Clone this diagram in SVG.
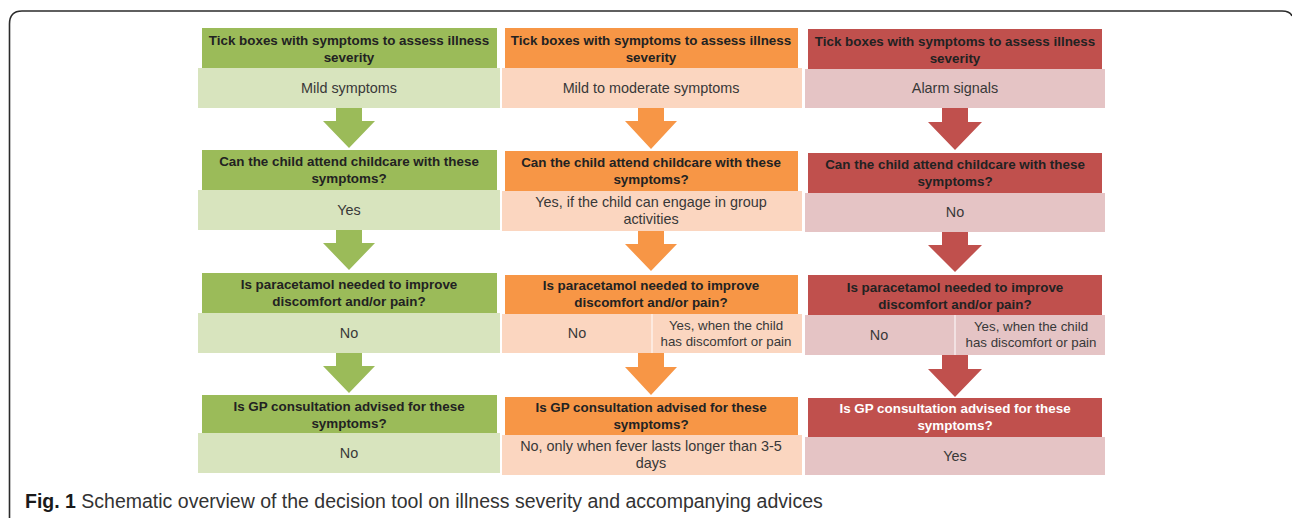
<svg xmlns="http://www.w3.org/2000/svg" width="1292" height="518" viewBox="0 0 1292 518">
<style>
.hd{font-family:"Liberation Sans",Arial,sans-serif;font-weight:bold;font-size:13.4px;fill:#222;text-anchor:middle}
.hw{fill:#ffffff}
.tx{font-family:"Liberation Sans",Arial,sans-serif;font-size:14.4px;fill:#383838;text-anchor:middle}
.sm{font-size:13.3px}
.g1{fill:#9BBB59}.g2{fill:#D8E4BE}
.o1{fill:#F79646}.o2{fill:#FBD6C0}
.r1{fill:#C0504D}.r2{fill:#E5C4C5}
.cap{font-family:"Liberation Sans",Arial,sans-serif;font-size:19.5px;fill:#333}
</style>
<rect width="1292" height="518" fill="#ffffff"/>
<path d="M9.5 518 V24 Q9.5 11 22 11 H1282 Q1290 11 1292 16" fill="none" stroke="#2b2b2b" stroke-width="1.6"/>

<!-- Column 1: green -->
<g id="g-row1">
<rect class="g1" x="202" y="28" width="295" height="40"/>
<rect class="g2" x="198" y="68" width="302" height="40"/>
<text class="hd" x="349" y="45">Tick  boxes with symptoms to assess illness</text>
<text class="hd" x="349" y="62">severity</text>
<text class="tx" x="349" y="93">Mild symptoms</text>
</g>
<g id="g-row2">
<rect class="g1" x="202" y="150" width="295" height="40"/>
<rect class="g2" x="198" y="190" width="302" height="40"/>
<text class="hd" x="349" y="166">Can the child  attend childcare  with these</text>
<text class="hd" x="349" y="183">symptoms?</text>
<text class="tx" x="349" y="215">Yes</text>
</g>
<g id="g-row3">
<rect class="g1" x="202" y="273" width="295" height="40"/>
<rect class="g2" x="198" y="313" width="302" height="40"/>
<text class="hd" x="349" y="289">Is paracetamol  needed to improve</text>
<text class="hd" x="349" y="306">discomfort and/or pain?</text>
<text class="tx" x="349" y="338">No</text>
</g>
<g id="g-row4">
<rect class="g1" x="202" y="395" width="295" height="38"/>
<rect class="g2" x="198" y="433" width="302" height="40"/>
<text class="hd" x="349" y="411">Is GP consultation  advised for these</text>
<text class="hd" x="349" y="428">symptoms?</text>
<text class="tx" x="349" y="458">No</text>
</g>

<!-- Column 2: orange -->
<g id="o-row1">
<rect class="o1" x="505" y="28" width="293" height="40"/>
<rect class="o2" x="502" y="68" width="300" height="40"/>
<text class="hd" x="651" y="45">Tick  boxes with symptoms to assess illness</text>
<text class="hd" x="651" y="62">severity</text>
<text class="tx" x="651" y="93">Mild to moderate  symptoms</text>
</g>
<g id="o-row2">
<rect class="o1" x="505" y="151" width="293" height="40"/>
<rect class="o2" x="502" y="191" width="300" height="40"/>
<text class="hd" x="651" y="167">Can the child  attend childcare  with these</text>
<text class="hd" x="651" y="184">symptoms?</text>
<text class="tx" x="651" y="207">Yes,  if the child can engage in group</text>
<text class="tx" x="651" y="224">activities</text>
</g>
<g id="o-row3">
<rect class="o1" x="505" y="275" width="293" height="39"/>
<rect class="o2" x="502" y="314" width="149.5" height="39"/>
<rect class="o2" x="652.5" y="314" width="149.5" height="39"/>
<text class="hd" x="651" y="290">Is paracetamol  needed to improve</text>
<text class="hd" x="651" y="307">discomfort and/or pain?</text>
<text class="tx" x="577" y="338">No</text>
<text class="tx sm" x="726" y="330">Yes, when the child</text>
<text class="tx sm" x="726" y="346">has discomfort or pain</text>
</g>
<g id="o-row4">
<rect class="o1" x="505" y="397" width="293" height="38"/>
<rect class="o2" x="502" y="435" width="300" height="40"/>
<text class="hd" x="651" y="412">Is GP consultation  advised for these</text>
<text class="hd" x="651" y="429">symptoms?</text>
<text class="tx" x="651" y="451">No, only when  fever  lasts longer than 3-5</text>
<text class="tx" x="651" y="468">days</text>
</g>

<!-- Column 3: red -->
<g id="r-row1">
<rect class="r1" x="808" y="29" width="294" height="40"/>
<rect class="r2" x="805" y="69" width="300" height="39"/>
<text class="hd" x="955" y="46">Tick  boxes with symptoms to assess illness</text>
<text class="hd" x="955" y="63">severity</text>
<text class="tx" x="955" y="93">Alarm signals</text>
</g>
<g id="r-row2">
<rect class="r1" x="808" y="153" width="294" height="40"/>
<rect class="r2" x="805" y="193" width="300" height="39"/>
<text class="hd" x="955" y="169">Can the child  attend childcare  with these</text>
<text class="hd" x="955" y="186">symptoms?</text>
<text class="tx" x="955" y="217">No</text>
</g>
<g id="r-row3">
<rect class="r1" x="808" y="275" width="294" height="40"/>
<rect class="r2" x="805" y="315" width="149.5" height="40"/>
<rect class="r2" x="955.5" y="315" width="149.5" height="40"/>
<text class="hd" x="955" y="292">Is paracetamol  needed to improve</text>
<text class="hd" x="955" y="309">discomfort and/or pain?</text>
<text class="tx" x="879" y="340">No</text>
<text class="tx sm" x="1031" y="331">Yes, when the child</text>
<text class="tx sm" x="1031" y="347">has discomfort or pain</text>
</g>
<g id="r-row4">
<rect class="r1" x="808" y="398" width="294" height="39"/>
<rect class="r2" x="805" y="437" width="300" height="38"/>
<text class="hd hw" x="955" y="413">Is GP consultation  advised for these</text>
<text class="hd hw" x="955" y="430">symptoms?</text>
<text class="tx" x="955" y="461">Yes</text>
</g>

<!-- Connectors: block arrows -->
<g id="connectors">
<path class="g1" d="M336 108 H362 V121 H375 L349 148 L323 121 H336 Z"/>
<path class="g1" d="M336 230 H362 V243 H375 L349 270 L323 243 H336 Z"/>
<path class="g1" d="M336 353 H362 V366 H375 L349 393 L323 366 H336 Z"/>
<path class="o1" d="M638 108 H664 V121 H677 L651 149 L625 121 H638 Z"/>
<path class="o1" d="M638 231 H664 V244 H677 L651 271 L625 244 H638 Z"/>
<path class="o1" d="M638 353 H664 V367 H677 L651 395 L625 367 H638 Z"/>
<path class="r1" d="M942 108 H968 V122 H982 L955 150 L928 122 H942 Z"/>
<path class="r1" d="M942 232 H968 V245 H982 L955 272 L928 245 H942 Z"/>
<path class="r1" d="M942 355 H968 V369 H982 L955 397 L928 369 H942 Z"/>
</g>

<text class="cap" x="25" y="508"><tspan font-weight="bold" fill="#1a1a1a">Fig. 1</tspan> Schematic overview of the decision tool on illness severity and accompanying advices</text>
</svg>
